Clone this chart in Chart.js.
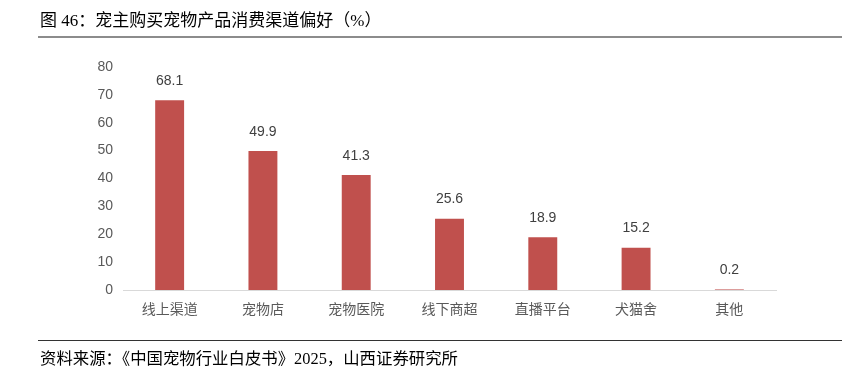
<!DOCTYPE html>
<html>
<head>
<meta charset="utf-8">
<script src="https://cdn.jsdelivr.net/npm/chart.js@4.4.1/dist/chart.umd.min.js"></script>
<style>
html,body{margin:0;padding:0;background:#fff;}
#wrap{position:relative;width:861px;height:380px;overflow:hidden;}
#title{position:absolute;left:40px;top:6px;font-family:"Liberation Serif","Noto Sans CJK SC",serif;font-size:17px;color:#000;white-space:nowrap;}
#tline{position:absolute;left:38px;top:36px;width:804px;height:2px;background:#8c8c8c;}
#fline{position:absolute;left:38px;top:340px;width:804px;height:1px;background:#333;}
#foot{position:absolute;left:40px;top:345px;font-family:"Liberation Serif","Noto Sans CJK SC",serif;font-size:16.4px;color:#000;white-space:nowrap;}
#c{position:absolute;left:0;top:0;}
</style>
</head>
<body>
<div id="wrap">
<canvas id="c" width="861" height="380"></canvas>
<div id="title">图 46：宠主购买宠物产品消费渠道偏好（%）</div>
<div id="tline"></div>
<div id="fline"></div>
<div id="foot">资料来源：《中国宠物行业白皮书》2025，山西证券研究所</div>
</div>
<script>
const categories = ["线上渠道","宠物店","宠物医院","线下商超","直播平台","犬猫舍","其他"];
const values = [68.1, 49.9, 41.3, 25.6, 18.9, 15.2, 0.2];
const yTicks = [0,10,20,30,40,50,60,70,80];

const labelPlugin = {
  id: 'valLabels',
  afterDatasetsDraw(chart) {
    const ctx = chart.ctx;
    const meta = chart.getDatasetMeta(0);
    ctx.save();
    ctx.font = '14px "Liberation Sans", Arial, sans-serif';
    ctx.fillStyle = '#404040';
    ctx.textAlign = 'center';
    ctx.textBaseline = 'middle';
    meta.data.forEach((bar, i) => {
      ctx.fillText(values[i].toFixed(1), bar.x, bar.y - 19);
    });
    ctx.restore();
  }
};

new Chart(document.getElementById('c'), {
  type: 'bar',
  data: {
    labels: categories,
    datasets: [{
      data: values,
      backgroundColor: '#C0504D',
      borderWidth: 0,
      barPercentage: 0.31,
      categoryPercentage: 1.0
    }]
  },
  options: {
    responsive: false,
    animation: false,
    devicePixelRatio: 1,
    layout: { padding: { top: 67, right: 85, left: 0, bottom: 0 } },
    plugins: { legend: { display: false }, tooltip: { enabled: false } },
    scales: {
      x: {
        grid: { display: false, drawTicks: false },
        border: { display: true, color: '#d9d9d9', width: 1 },
        ticks: { color: '#595959', font: { size: 14, family: '"Noto Sans CJK SC", sans-serif' }, padding: 10 },
        afterFit(s) { s.height = 90; }
      },
      y: {
        min: 0, max: 80,
        afterBuildTicks(s) { s.ticks = yTicks.map(v => ({ value: v })); },
        grid: { display: false, drawTicks: false },
        border: { display: false },
        ticks: { color: '#595959', font: { size: 14, family: '"Liberation Sans", Arial, sans-serif' }, padding: 10 },
        afterFit(s) { s.width = 123; }
      }
    }
  },
  plugins: [labelPlugin]
});
</script>
</body>
</html>
